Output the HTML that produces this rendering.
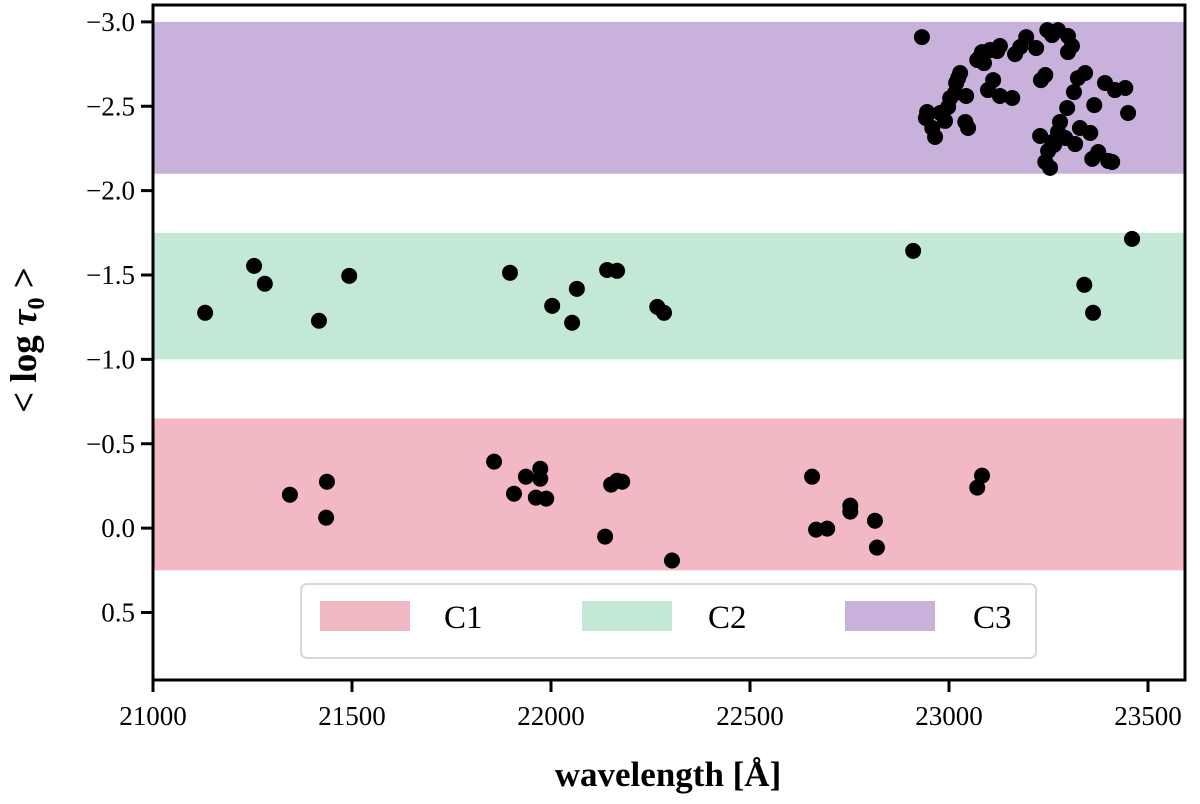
<!DOCTYPE html>
<html><head><meta charset="utf-8"><style>
body{margin:0;background:#fff}
svg{display:block;font-family:"Liberation Serif","DejaVu Serif",serif}
</style></head><body>
<svg id="chart" width="1200" height="804">
<g id="bands"></g>
<g id="points"></g>
<g id="axes"></g>
<g>
<rect x="301" y="584" width="735" height="74" rx="6" fill="#fff" fill-opacity="0.85" stroke="#d8d8d8" stroke-width="2"/>
<rect x="320" y="601" width="90" height="30" fill="#f2b8c4"/>
<text x="444" y="628" font-size="33">C1</text>
<rect x="582" y="601" width="90" height="30" fill="#c4e8d6"/>
<text x="708" y="628" font-size="33">C2</text>
<rect x="845" y="601" width="90" height="30" fill="#c8b1da"/>
<text x="973" y="628" font-size="33">C3</text>
</g>
<text x="668" y="786" font-size="35" font-weight="bold" text-anchor="middle">wavelength [Å]</text>
<text transform="translate(36,340) rotate(-90)" font-size="37" font-weight="bold" text-anchor="middle">&lt; log <tspan font-style="italic">τ</tspan><tspan font-size="24" dy="8">0</tspan><tspan dy="-8"> &gt;</tspan></text>
</svg>
<script>
const xTicks=[21000,21500,22000,22500,23000,23500];
const yTicks=[-3.0,-2.5,-2.0,-1.5,-1.0,-0.5,0.0,0.5];
const yTickLabels=["−3.0","−2.5","−2.0","−1.5","−1.0","−0.5","0.0","0.5"];
const bandLo=[-0.65,-1.75,-3.0];
const bandHi=[0.25,-1.0,-2.1];
const bandColors=["#f2b8c4","#c4e8d6","#c8b1da"];
const c2X=[21131,21254,21281,21417,21493,21897,22003,22053,22065,22141,22166,22267,22284,22910,23362,23340,23460];
const c2Y=[-1.276,-1.554,-1.448,-1.229,-1.495,-1.513,-1.317,-1.217,-1.418,-1.530,-1.525,-1.311,-1.276,-1.643,-1.276,-1.442,-1.714];
const c1X=[21344,21437,21435,21857,21907,21937,21973,21973,21962,21988,22151,22136,22166,22179,22304,22656,22666,22694,22752,22752,22814,22819,23071,23083];
const c1Y=[-0.198,-0.275,-0.062,-0.394,-0.204,-0.305,-0.352,-0.293,-0.181,-0.175,-0.258,0.050,-0.281,-0.275,0.192,-0.305,0.009,0.003,-0.133,-0.098,-0.044,0.115,-0.240,-0.311];
const c3X=[22932,22945,22942,22958,22965,22978,22990,22998,23003,23015,23018,23023,23028,23041,23048,23043,23071,23078,23083,23088,23103,23121,23128,23166,23179,23194,23219,23231,23229,23242,23259,23247,23274,23299,23314,23342,23297,23292,23329,23355,23360,23375,23400,23242,23249,23264,23274,23259,23279,23317,23324,23365,23392,23410,23299,23309,23417,23443,23450,23254,23128,23159,23098,23111];
const c3Y=[-2.910,-2.466,-2.430,-2.371,-2.318,-2.460,-2.413,-2.496,-2.549,-2.578,-2.638,-2.667,-2.697,-2.407,-2.371,-2.561,-2.774,-2.792,-2.821,-2.756,-2.833,-2.827,-2.857,-2.809,-2.851,-2.910,-2.845,-2.655,-2.324,-2.685,-2.922,-2.951,-2.951,-2.916,-2.584,-2.697,-2.490,-2.312,-2.371,-2.342,-2.188,-2.229,-2.176,-2.170,-2.235,-2.271,-2.348,-2.288,-2.407,-2.276,-2.667,-2.507,-2.638,-2.170,-2.821,-2.857,-2.596,-2.608,-2.460,-2.135,-2.561,-2.549,-2.596,-2.655];

const L=153,R=1185,T=5,B=680;
const xMin=21000,xMax=23593,yMin=-3.1,yMax=0.9;
const sx=v=>L+(v-xMin)/(xMax-xMin)*(R-L);
const sy=v=>T+(v-yMin)/(yMax-yMin)*(B-T);
const NS="http://www.w3.org/2000/svg";
function mk(tag,attrs,parent){const e=document.createElementNS(NS,tag);for(const k in attrs)e.setAttribute(k,attrs[k]);parent.appendChild(e);return e;}
const bands=document.getElementById('bands');
for(let i=0;i<bandLo.length;i++){
  const r=mk('rect',{x:L,y:sy(bandLo[i]),width:R-L,height:sy(bandHi[i])-sy(bandLo[i]),fill:bandColors[i]},bands);
  
  
}
const pts=document.getElementById('points');
[[c1X,c1Y],[c2X,c2Y],[c3X,c3Y]].forEach((s,si)=>{
  for(let i=0;i<s[0].length;i++){
    const c=mk('circle',{cx:sx(s[0][i]),cy:sy(s[1][i]),r:8,fill:'#000'},pts);
    
    
  }
});
const ax=document.getElementById('axes');
const frame=mk('rect',{x:L,y:T,width:R-L,height:B-T,fill:'none',stroke:'#000','stroke-width':3},ax);


xTicks.forEach(v=>{
  const x=sx(v);
  mk('line',{x1:x,x2:x,y1:B,y2:B+12,stroke:'#000','stroke-width':3},ax);
  const t=mk('text',{x:x,y:B+45,'font-size':27,'text-anchor':'middle'},ax);
  t.textContent=v;
  
  
});
yTicks.forEach((v,i)=>{
  const y=sy(v);
  mk('line',{x1:L-12,x2:L,y1:y,y2:y,stroke:'#000','stroke-width':3},ax);
  const t=mk('text',{x:L-18,y:y+9,'font-size':27,'text-anchor':'end'},ax);
  t.textContent=yTickLabels[i];
  
  
});
</script>
</body></html>
